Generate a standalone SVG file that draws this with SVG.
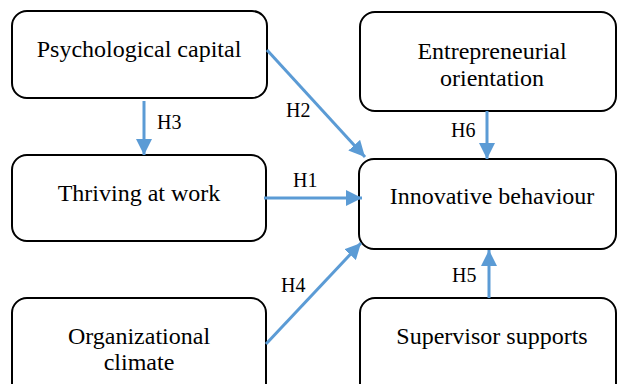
<svg xmlns="http://www.w3.org/2000/svg" width="617" height="384" viewBox="0 0 617 384">
<style>
.box{fill:#fff;stroke:#000;stroke-width:2}
.t{font-family:"Liberation Serif","Times New Roman",serif;font-size:24px;fill:#000;text-anchor:middle}
.lbl{font-family:"Liberation Serif","Times New Roman",serif;font-size:20px;fill:#000}
.c{stroke:#5B9BD5;stroke-width:3;fill:none;marker-end:url(#ah)}
</style>
<defs>
<marker id="ah" markerUnits="userSpaceOnUse" markerWidth="16" markerHeight="16" refX="14" refY="7" orient="auto" viewBox="0 0 14 14">
<path d="M0,0 L14,7 L0,14 Z" fill="#5B9BD5"/>
</marker>
</defs>
<rect width="617" height="384" fill="#fff"/>
<g id="psychological-capital">
<rect class="box" x="12" y="11" width="255" height="87" rx="15"/>
<text class="t" x="139" y="57">Psychological capital</text>
</g>
<g id="entrepreneurial-orientation">
<rect class="box" x="360" y="12" width="256" height="99" rx="15"/>
<text class="t" x="492" y="59">Entrepreneurial</text>
<text class="t" x="492" y="86">orientation</text>
</g>
<g id="thriving-at-work">
<rect class="box" x="12" y="155" width="254" height="86" rx="15"/>
<text class="t" x="139" y="201">Thriving at work</text>
</g>
<g id="innovative-behaviour">
<rect class="box" x="359" y="159" width="257" height="90" rx="15"/>
<text class="t" x="492" y="204">Innovative behaviour</text>
</g>
<g id="organizational-climate">
<rect class="box" x="12" y="298" width="254" height="100" rx="15"/>
<text class="t" x="139" y="344">Organizational</text>
<text class="t" x="139" y="370">climate</text>
</g>
<g id="supervisor-supports">
<rect class="box" x="360" y="298" width="256" height="100" rx="15"/>
<text class="t" x="492" y="344">Supervisor supports</text>
</g>
<g id="connectors">
<line class="c" x1="144" y1="101" x2="144" y2="155"/>
<line class="c" x1="267" y1="50" x2="365" y2="157"/>
<line class="c" x1="264" y1="198" x2="362" y2="198"/>
<line class="c" x1="266" y1="344" x2="361" y2="243"/>
<line class="c" x1="487" y1="111" x2="487" y2="159"/>
<line class="c" x1="489" y1="298" x2="489" y2="250"/>
<text class="lbl" x="157" y="129">H3</text>
<text class="lbl" x="286" y="117">H2</text>
<text class="lbl" x="293" y="187">H1</text>
<text class="lbl" x="281" y="292">H4</text>
<text class="lbl" x="451" y="137">H6</text>
<text class="lbl" x="452" y="282">H5</text>
</g>
</svg>
